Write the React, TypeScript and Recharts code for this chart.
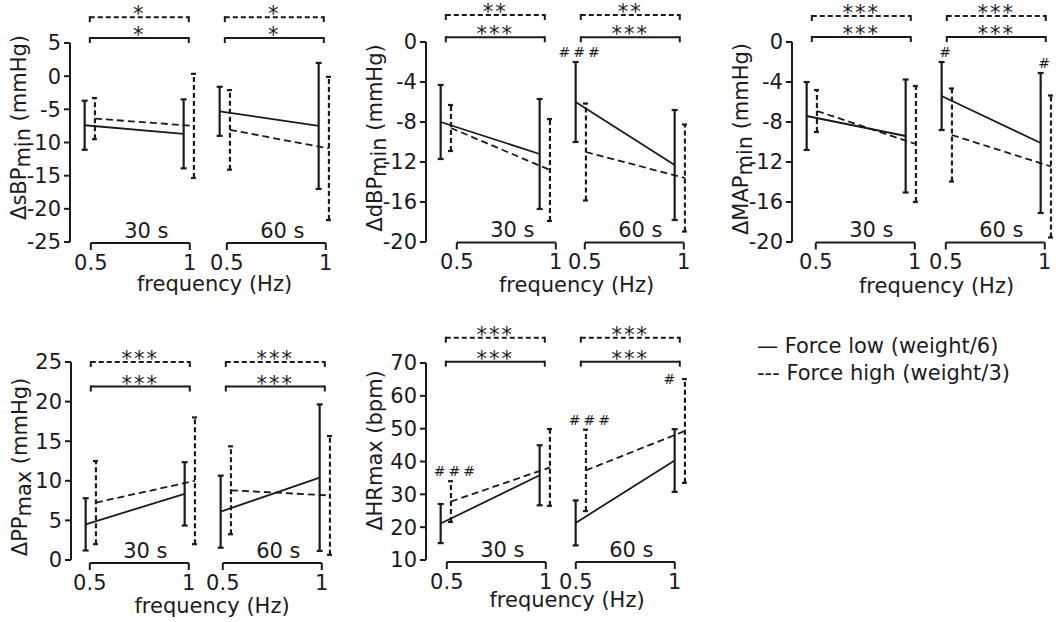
import React from "react";
import {
  ComposedChart,
  Line,
  ErrorBar,
  XAxis,
  YAxis,
  ReferenceLine,
  ReferenceDot,
} from "recharts";

// values: mean and SD per time window and frequency
const FREQS = [0.5, 1];
const WINDOWS = ["30 s", "60 s"];

const sbpLow = [
  { win: "30 s", f: 0.5, mean: -7.4, sd: 3.7 },
  { win: "30 s", f: 1, mean: -8.7, sd: 5.2 },
  { win: "60 s", f: 0.5, mean: -5.3, sd: 3.7 },
  { win: "60 s", f: 1, mean: -7.5, sd: 9.5 },
];
const sbpHigh = [
  { win: "30 s", f: 0.5, mean: -6.4, sd: 3.1 },
  { win: "30 s", f: 1, mean: -7.5, sd: 7.85 },
  { win: "60 s", f: 0.5, mean: -8.1, sd: 6.0 },
  { win: "60 s", f: 1, mean: -10.9, sd: 10.8 },
];
const dbpLow = [
  { win: "30 s", f: 0.5, mean: -8.0, sd: 3.7 },
  { win: "30 s", f: 1, mean: -11.2, sd: 5.5 },
  { win: "60 s", f: 0.5, mean: -6.0, sd: 4.0 },
  { win: "60 s", f: 1, mean: -12.3, sd: 5.5 },
];
const dbpHigh = [
  { win: "30 s", f: 0.5, mean: -8.6, sd: 2.3 },
  { win: "30 s", f: 1, mean: -12.8, sd: 5.1 },
  { win: "60 s", f: 0.5, mean: -11.0, sd: 4.85 },
  { win: "60 s", f: 1, mean: -13.6, sd: 5.35 },
];
const mapLow = [
  { win: "30 s", f: 0.5, mean: -7.4, sd: 3.4 },
  { win: "30 s", f: 1, mean: -9.4, sd: 5.65 },
  { win: "60 s", f: 0.5, mean: -5.4, sd: 3.4 },
  { win: "60 s", f: 1, mean: -10.1, sd: 7.0 },
];
const mapHigh = [
  { win: "30 s", f: 0.5, mean: -6.9, sd: 2.1 },
  { win: "30 s", f: 1, mean: -10.2, sd: 5.8 },
  { win: "60 s", f: 0.5, mean: -9.3, sd: 4.65 },
  { win: "60 s", f: 1, mean: -12.45, sd: 7.1 },
];
const ppLow = [
  { win: "30 s", f: 0.5, mean: 4.5, sd: 3.3 },
  { win: "30 s", f: 1, mean: 8.35, sd: 4.0 },
  { win: "60 s", f: 0.5, mean: 6.1, sd: 4.55 },
  { win: "60 s", f: 1, mean: 10.4, sd: 9.25 },
];
const ppHigh = [
  { win: "30 s", f: 0.5, mean: 7.25, sd: 5.25 },
  { win: "30 s", f: 1, mean: 10.0, sd: 8.0 },
  { win: "60 s", f: 0.5, mean: 8.8, sd: 5.55 },
  { win: "60 s", f: 1, mean: 8.15, sd: 7.5 },
];
const hrLow = [
  { win: "30 s", f: 0.5, mean: 21.1, sd: 5.95 },
  { win: "30 s", f: 1, mean: 35.8, sd: 9.15 },
  { win: "60 s", f: 0.5, mean: 21.3, sd: 6.85 },
  { win: "60 s", f: 1, mean: 40.3, sd: 9.55 },
];
const hrHigh = [
  { win: "30 s", f: 0.5, mean: 27.8, sd: 6.2 },
  { win: "30 s", f: 1, mean: 38.2, sd: 11.7 },
  { win: "60 s", f: 0.5, mean: 37.3, sd: 12.4 },
  { win: "60 s", f: 1, mean: 49.3, sd: 15.8 },
];

// # marks (difference between force levels)
const dbpMarks = [{ win: "60 s", series: "low", f: 0.5, text: "###", place: "above" }];
const mapMarks = [
  { win: "60 s", series: "low", f: 0.5, text: "#", place: "above" },
  { win: "60 s", series: "low", f: 1, text: "#", place: "above" },
];
const hrMarks = [
  { win: "30 s", series: "high", f: 0.5, text: "###", place: "above" },
  { win: "60 s", series: "high", f: 0.5, text: "###", place: "above" },
  { win: "60 s", series: "high", f: 1, text: "#", place: "left" },
];

const panels = [
  {
    id: "sbp", label: ["ΔsBP", "min", " (mmHg)"], domain: [-25, 5],
    ticks: [-25, -20, -15, -10, -5, 0, 5], low: sbpLow, high: sbpHigh,
    starsLow: "*", starsHigh: "*", bracketLow: 5.75, bracketHigh: 8.9, marks: [],
  },
  {
    id: "dbp", label: ["ΔdBP", "min", " (mmHg)"], domain: [-20, 0],
    ticks: [-20, -16, -12, -8, -4, 0], low: dbpLow, high: dbpHigh,
    starsLow: "***", starsHigh: "**", bracketLow: 0.47, bracketHigh: 2.7, marks: dbpMarks,
  },
  {
    id: "map", label: ["ΔMAP", "min", " (mmHg)"], domain: [-20, 0],
    ticks: [-20, -16, -12, -8, -4, 0], low: mapLow, high: mapHigh,
    starsLow: "***", starsHigh: "***", bracketLow: 0.5, bracketHigh: 2.6, marks: mapMarks,
  },
  {
    id: "pp", label: ["ΔPP", "max", " (mmHg)"], domain: [0, 25],
    ticks: [0, 5, 10, 15, 20, 25], low: ppLow, high: ppHigh,
    starsLow: "***", starsHigh: "***", bracketLow: 21.9, bracketHigh: 25, marks: [],
  },
  {
    id: "hr", label: ["ΔHRmax (bpm)", "", ""], domain: [10, 70],
    ticks: [10, 20, 30, 40, 50, 60, 70], low: hrLow, high: hrHigh,
    starsLow: "***", starsHigh: "***", bracketLow: 70.4, bracketHigh: 77.7, marks: hrMarks,
  },
];

// page layout of each panel (pixels)
const layout: Record<string, any> = {
  sbp: { axisX: 70, top: 43, bottom: 242, shift: [1, 2], drop: 1, labelShift: -15, freqDy: 49 },
  dbp: { axisX: 426, top: 42, bottom: 242, shift: [11, 4], drop: 0.5, labelShift: -4, freqDy: 50 },
  map: { axisX: 792, top: 42, bottom: 242, shift: [4, -1], drop: 0.5, labelShift: -3, freqDy: 51 },
  pp: { axisX: 71, top: 362, bottom: 560, shift: [-1, -3], drop: 3, labelShift: 6, freqDy: 53 },
  hr: { axisX: 426, top: 363, bottom: 560, shift: [1, -5], drop: 2, labelShift: -11, freqDy: 47 },
};

const INK = "#1b1b1b";
const FONT = "'DejaVu Sans', Verdana, sans-serif";
const FS = 21;
const K = 198; // px per Hz
const X_DOMAIN: [number, number] = [0.4, 1.1];
const PLOT_W = (X_DOMAIN[1] - X_DOMAIN[0]) * K;
const DODGE = 0.026;
const MT = 52;
const XH = 60;
const YW = 70;
const PAD_L2 = 30; // spare room left of the 60 s subplot for its tick label
const SUB_OFFSET = 155; // y axis -> 0.5 Hz of the 60 s subplot

const placeOffsets: Record<string, { dx: number; dy: number }> = {
  above: { dx: 5, dy: -5 },
  left: { dx: -14, dy: 5 },
};

function toSeries(rows: any[], win: string, dodge: number) {
  return rows
    .filter((r) => r.win === win)
    .map((r) => ({ x: r.f + dodge, mean: r.mean, err: r.sd }));
}

function XTick(props: any) {
  const { x, y, payload, shift, drop } = props;
  const cx = x + shift;
  return (
    <g>
      <line x1={cx} x2={cx} y1={y + drop} y2={y + drop + 7} stroke={INK} strokeWidth={2} />
      <text x={cx} y={y + drop + 27} textAnchor="middle" fontSize={FS} fill={INK}>
        {String(payload.value)}
      </text>
    </g>
  );
}

function AxisSegment(props: any) {
  const { x1, x2, y1, shift, drop, text } = props;
  const y = y1 + drop;
  return (
    <g>
      <line x1={x1 + shift} x2={x2 + shift} y1={y} y2={y} stroke={INK} strokeWidth={2} />
      <text x={(x1 + x2) / 2 + shift + 6} y={y - 5} textAnchor="middle" fontSize={FS} fill={INK}>
        {text}
      </text>
    </g>
  );
}

function Bracket(props: any) {
  const { x1, x2, y1, stars, dashed } = props;
  return (
    <g>
      <line x1={x1} x2={x2} y1={y1} y2={y1} stroke={INK} strokeWidth={2}
        strokeDasharray={dashed ? "5 3" : undefined} />
      <line x1={x1} x2={x1} y1={y1 - 1} y2={y1 + 5} stroke={INK} strokeWidth={2} />
      <line x1={x2} x2={x2} y1={y1 - 1} y2={y1 + 5} stroke={INK} strokeWidth={2} />
      <text x={(x1 + x2) / 2} y={y1 + 4} textAnchor="middle" fontSize={21}
        letterSpacing={2} fill={INK}>
        {stars}
      </text>
    </g>
  );
}

function SubChart({ p, idx }: { p: any; idx: number }) {
  const lay = layout[p.id];
  const win = WINDOWS[idx];
  const first = idx === 0;
  const plotH = lay.bottom - lay.top;
  const padL = first ? 0 : PAD_L2;
  const width = (first ? YW : 0) + padL + PLOT_W;
  const height = MT + plotH + XH;
  const shift = lay.shift[idx];
  const series = {
    low: toSeries(p.low, win, -DODGE),
    high: toSeries(p.high, win, DODGE),
  };
  const [ymin] = p.domain;
  const left = first
    ? lay.axisX - YW
    : lay.axisX + SUB_OFFSET - (0.5 - X_DOMAIN[0]) * K - padL;
  const labelX = YW - 44;
  const labelY = MT + plotH / 2 + lay.labelShift;

  return (
    <div style={{ position: "absolute", left, top: lay.top - MT }}>
      <ComposedChart width={width} height={height}
        margin={{ top: MT, right: 0, bottom: 0, left: padL }} style={{ overflow: "visible" }}>
        <XAxis type="number" dataKey="x" domain={X_DOMAIN} ticks={FREQS} allowDataOverflow
          axisLine={false} tickLine={false} tickSize={0} tickMargin={0} height={XH} interval={0}
          tick={(t: any) => <XTick {...t} shift={shift} drop={lay.drop} />} />
        <YAxis hide={!first} type="number" domain={p.domain} ticks={p.ticks} allowDataOverflow
          interval={0} width={first ? YW : 0} stroke={INK} tickSize={6} tickMargin={3}
          axisLine={{ stroke: INK, strokeWidth: 2 }} tickLine={{ stroke: INK, strokeWidth: 2 }}
          tick={{ fill: INK, fontSize: FS }}
          label={{
            content: () => (
              <text x={labelX} y={labelY} transform={`rotate(-90 ${labelX} ${labelY})`}
                textAnchor="middle" fontSize={FS} fill={INK} style={{ whiteSpace: "pre" }}>
                <tspan>{p.label[0]}</tspan>
                {p.label[1] ? <tspan dy={4}>{p.label[1]}</tspan> : null}
                {p.label[2] ? <tspan dy={-4}>{p.label[2]}</tspan> : null}
              </text>
            ),
          }} />
        <ReferenceLine segment={[{ x: FREQS[0], y: ymin }, { x: FREQS[1], y: ymin }]}
          ifOverflow="visible"
          shape={(s: any) => <AxisSegment {...s} shift={shift} drop={lay.drop} text={win} />} />
        <ReferenceLine segment={[{ x: FREQS[0], y: p.bracketLow }, { x: FREQS[1], y: p.bracketLow }]}
          ifOverflow="visible"
          shape={(s: any) => <Bracket {...s} stars={p.starsLow} dashed={false} />} />
        <ReferenceLine segment={[{ x: FREQS[0], y: p.bracketHigh }, { x: FREQS[1], y: p.bracketHigh }]}
          ifOverflow="visible"
          shape={(s: any) => <Bracket {...s} stars={p.starsHigh} dashed />} />
        <Line data={series.low} dataKey="mean" type="linear" stroke={INK} strokeWidth={1.8}
          dot={false} activeDot={false} isAnimationActive={false}>
          <ErrorBar dataKey="err" direction="y" width={3} stroke={INK} strokeWidth={2.2} />
        </Line>
        <Line data={series.high} dataKey="mean" type="linear" stroke={INK} strokeWidth={1.8}
          strokeDasharray="7 4" dot={false} activeDot={false} isAnimationActive={false}>
          <ErrorBar dataKey="err" direction="y" width={3} stroke={INK} strokeWidth={2.2}
            strokeDasharray="5 3" />
        </Line>
        {p.marks
          .filter((m: any) => m.win === win)
          .map((m: any, i: number) => {
            const row = (m.series === "low" ? p.low : p.high).find(
              (r: any) => r.win === win && r.f === m.f
            );
            const off = placeOffsets[m.place];
            return (
              <ReferenceDot key={i} x={m.f + (m.series === "low" ? -DODGE : DODGE)}
                y={row.mean + row.sd} r={0} ifOverflow="visible"
                shape={(d: any) => (
                  <text x={d.cx + off.dx} y={d.cy + off.dy} textAnchor="middle" fontSize={14}
                    letterSpacing={3} fill={INK}>
                    {m.text}
                  </text>
                )} />
            );
          })}
      </ComposedChart>
    </div>
  );
}

export default function App() {
  return (
    <div style={{ position: "absolute", left: 0, top: 0, width: 1056, height: 622,
      background: "#fff", fontFamily: FONT, color: INK, overflow: "hidden" }}>
      {panels.map((p) => (
        <React.Fragment key={p.id}>
          <SubChart p={p} idx={0} />
          <SubChart p={p} idx={1} />
        </React.Fragment>
      ))}
      <svg width={1056} height={622} style={{ position: "absolute", left: 0, top: 0,
        pointerEvents: "none" }} fontFamily={FONT}>
        {panels.map((p) => {
          const lay = layout[p.id];
          const cx = lay.axisX + 143 + (lay.shift[0] + lay.shift[1]) / 2;
          return (
            <text key={p.id} x={cx} y={lay.bottom + lay.freqDy} textAnchor="middle"
              fontSize={FS} fill={INK}>
              frequency (Hz)
            </text>
          );
        })}
        <text x={757} y={353} fontSize={FS} fill={INK} style={{ whiteSpace: "pre" }}>
          — Force low (weight/6)
        </text>
        <text x={757} y={380} fontSize={FS} fill={INK} style={{ whiteSpace: "pre" }}>
          --- Force high (weight/3)
        </text>
      </svg>
    </div>
  );
}
